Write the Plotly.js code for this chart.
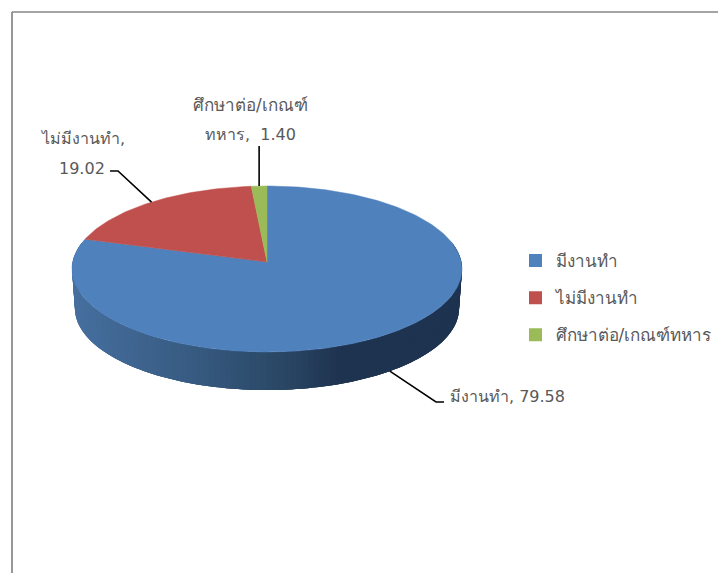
<!DOCTYPE html>
<html>
<head>
<meta charset="utf-8">
<script src="https://cdn.plot.ly/plotly-3.0.1.min.js"></script>
<style>html,body{margin:0;padding:0;background:#fff;overflow:hidden}#chart{width:718px;height:573px}</style>
</head>
<body>
<div id="chart"></div>
<script>
var categories = ["มีงานทำ", "ไม่มีงานทำ", "ศึกษาต่อ/เกณฑ์ทหาร"];
var values = [79.58, 19.02, 1.40];
var colors = ["#4f81bd", "#c0504d", "#9bbb59"];
var FONT = '"DejaVu Sans", "Noto Sans", sans-serif';
var TEXT = "#595959";

// tilted-pie projection, output in the axis units of the hidden axes
var CX = 267, CY = 262, RX = 194.3, SY = 82.4, K = 0.0843;
var total = values.reduce(function (a, b) { return a + b; }, 0);
function rimTop(fr) {
  var t = 2 * Math.PI * fr, u = Math.sin(t), v = Math.cos(t), d = 1 + K * v;
  return [CX + RX * u / d, CY - SY * v / d];
}
function rimBottom(fr) {
  var t = 2 * Math.PI * fr, u = Math.sin(t), v = Math.cos(t), d = 1 + K * v;
  return [CX + 0.985 * RX * u / d, CY + 39.4 - 0.985 * SY * v / d];
}
function hex(c) { return [1, 3, 5].map(function (i) { return parseInt(c.substr(i, 2), 16); }); }
var shadeStops = [[74, "#466f9f"], [200, "#36597f"], [290, "#294562"], [340, "#1e3350"], [470, "#1e3350"]];
function shade(x) {
  for (var i = 0; i < shadeStops.length - 1; i++) {
    var a = shadeStops[i], b = shadeStops[i + 1];
    if (x <= b[0]) {
      var f = Math.max(0, (x - a[0]) / (b[0] - a[0])), ca = hex(a[1]), cb = hex(b[1]);
      return "rgb(" + ca.map(function (c, j) { return Math.round(c + (cb[j] - c) * f); }).join(",") + ")";
    }
  }
  return shadeStops[shadeStops.length - 1][1];
}

var traces = [];
// side wall: each strip overlaps the next so no seams show
var STRIPS = 130, from = 0.21, to = 0.79, step = (to - from) / STRIPS;
for (var s = 0; s < STRIPS; s++) {
  var f0 = from + step * s, f1 = Math.min(to, f0 + step * 3);
  var xs0 = [], ys0 = [], q;
  for (var fi = 0; fi <= 3; fi++) { q = rimTop(f0 + (f1 - f0) * fi / 3); xs0.push(q[0]); ys0.push(q[1]); }
  for (fi = 3; fi >= 0; fi--) { q = rimBottom(f0 + (f1 - f0) * fi / 3); xs0.push(q[0]); ys0.push(q[1]); }
  var col = shade(rimTop(f0 + step / 2)[0]);
  traces.push({
    type: "scatter", mode: "none", x: xs0, y: ys0,
    fill: "toself", fillcolor: col, showlegend: false, hoverinfo: "skip"
  });
}
// top faces
var cum = 0;
values.forEach(function (val, i) {
  var start = cum / total, end = (cum + val) / total, xs = [CX], ys = [CY];
  var n = Math.max(4, Math.round(val * 4));
  for (var j = 0; j <= n; j++) {
    var p = rimTop(start + (end - start) * j / n);
    xs.push(p[0]); ys.push(p[1]);
  }
  xs.push(CX); ys.push(CY);
  traces.push({
    type: "scatter", mode: "lines", x: xs, y: ys, fill: "toself", fillcolor: colors[i],
    line: { color: colors[i], width: 0.5 }, showlegend: false, name: categories[i], hoverinfo: "name"
  });
  cum += val;
});
// legend entries
categories.forEach(function (name, i) {
  traces.push({
    type: "scatter", mode: "markers", x: [null], y: [null], name: name, legendgroup: "g" + i,
    marker: { symbol: "square", size: 13, color: colors[i] }
  });
});

function midOf(i) {
  var c = 0;
  for (var j = 0; j < i; j++) c += values[j];
  return (c + values[i] / 2) / total;
}
var leaderStyle = { color: "#000000", width: 1.6 };
function poly(pts) {
  return { type: "path", xref: "x", yref: "y", line: leaderStyle,
    path: pts.map(function (p, i) { return (i ? "L" : "M") + p[0] + "," + p[1]; }).join(" ") };
}
var m0 = rimBottom(midOf(0)), m1 = rimTop(midOf(1)), m2 = rimTop(midOf(2));
var shapes = [
  { type: "line", xref: "x", yref: "y", x0: 12, y0: 12, x1: 718, y1: 12, line: { color: "#868686", width: 1.7 } },
  { type: "line", xref: "x", yref: "y", x0: 12, y0: 12, x1: 12, y1: 573, line: { color: "#868686", width: 1.7 } },
  poly([m0, [436, 402], [444, 402]]),
  poly([m1, [118, 171], [110, 171]]),
  poly([m2, [m2[0], 146]])
];
function label(txt, x, y, anchor, size) {
  return { xref: "x", yref: "y", x: x, y: y, text: txt, showarrow: false, xanchor: anchor, yanchor: "middle",
    font: { family: FONT, size: size || 16, color: TEXT } };
}
var annotations = [
  label("มีงานทำ, " + values[0].toFixed(2), 448, 396, "left"),
  label("ไม่มีงานทำ,", 82, 138, "center"),
  label(values[1].toFixed(2), 107, 168, "right"),
  label("ศึกษาต่อ/เกณฑ์", 250, 105, "center", 17),
  label("ทหาร,  " + values[2].toFixed(2), 250, 134, "center")
];

Plotly.newPlot("chart", traces, {
  width: 718, height: 573, margin: { l: 0, r: 0, t: 0, b: 0 },
  paper_bgcolor: "#ffffff", plot_bgcolor: "#ffffff", font: { family: FONT, color: TEXT, size: 16 },
  xaxis: { range: [0, 718], visible: false, fixedrange: true },
  yaxis: { range: [573, 0], visible: false, fixedrange: true },
  showlegend: true,
  legend: { x: 515.5 / 718, y: 1 - 243 / 573, xanchor: "left", yanchor: "top", traceorder: "grouped",
    tracegroupgap: 12, bgcolor: "rgba(0,0,0,0)", font: { family: FONT, size: 17, color: TEXT } },
  shapes: shapes, annotations: annotations
}, { displayModeBar: false });
</script>
</body>
</html>
